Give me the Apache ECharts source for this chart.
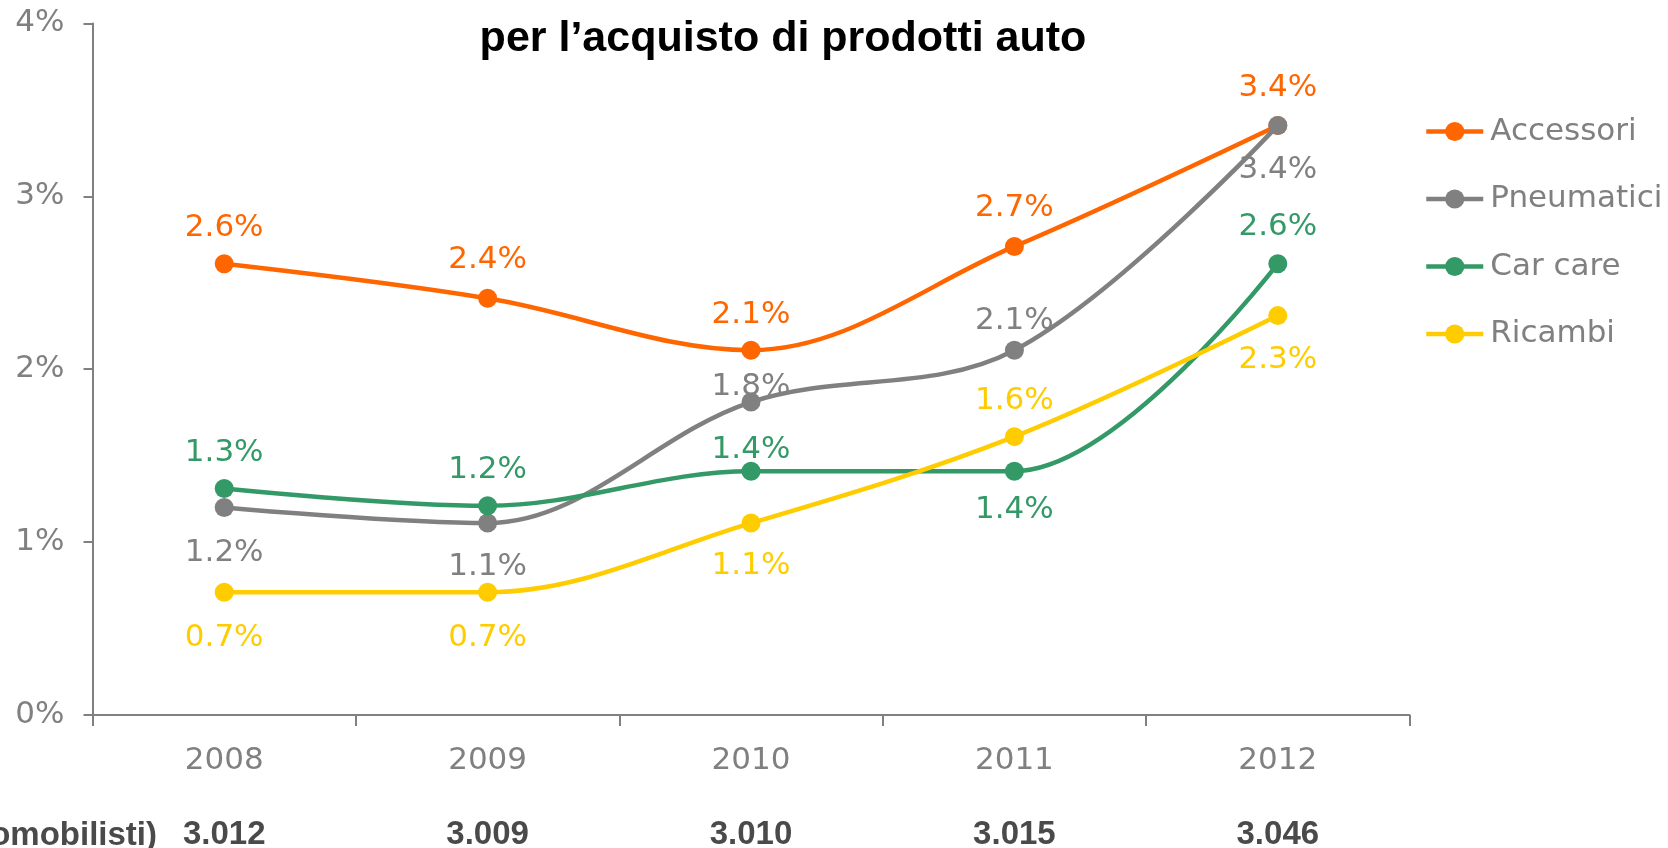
<!DOCTYPE html>
<html>
<head>
<meta charset="utf-8">
<script src="https://cdn.jsdelivr.net/npm/echarts@6/dist/echarts.min.js"></script>
<style>
html,body{margin:0;padding:0;background:#fff;}
#chart{width:1668px;height:848px;}
</style>
</head>
<body>
<div id="chart"></div>
<script>
// ---- data ----
var years = ['2008', '2009', '2010', '2011', '2012'];
var automobilisti = ['3.012', '3.009', '3.010', '3.015', '3.046'];
var accessori  = [2.61, 2.41, 2.11, 2.71, 3.41];
var pneumatici = [1.20, 1.11, 1.81, 2.11, 3.41];
var carCare    = [1.31, 1.21, 1.41, 1.41, 2.61];
var ricambi    = [0.71, 0.71, 1.11, 1.61, 2.31];
var yTickValues = [0, 1, 2, 3, 4];
var titleLines = ['Utilizzo del canale internet', 'per l\u2019acquisto di prodotti auto'];
var bottomRowLabel = '(Base: automobilisti)';

// ---- label layout (style only) ----
var accLabelPos  = [['top',11],['top',13],['top',10],['top',13],['top',12]];
var pneLabelPos  = [['bottom',20],['bottom',19],['top',-10],['top',4],['bottom',20]];
var carLabelPos  = [['top',11],['top',11],['top',-4],['bottom',14],['top',12]];
var ricLabelPos  = [['bottom',21],['bottom',21],['bottom',18],['top',11],['bottom',19]];

var GRAY = '#808080';
var FONT = '"DejaVu Sans", Verdana, sans-serif';

function buildData(values, layout) {
  return values.map(function (v, i) {
    return { value: v, label: { position: layout[i][0], distance: layout[i][1] } };
  });
}

function makeSeries(name, color, values, layout) {
  return {
    name: name,
    type: 'line',
    xAxisIndex: 0,
    smooth: 0.35,
    symbol: 'circle',
    symbolSize: 19,
    lineStyle: { color: color, width: 4.5 },
    itemStyle: { color: color },
    label: {
      show: true,
      color: color,
      fontFamily: FONT,
      fontSize: 31,
      lineHeight: 31,
      formatter: function (p) { return p.value.toFixed(1) + '%'; }
    },
    emphasis: { disabled: true },
    data: buildData(values, layout)
  };
}

var chart = echarts.init(document.getElementById('chart'), null, { renderer: 'canvas' });

var option = {
  animation: false,
  backgroundColor: '#ffffff',
  grid: { left: 92.5, right: 258.5, top: 23.4, bottom: 133, containLabel: false, outerBoundsMode: 'none' },
  legend: {
    orient: 'vertical',
    left: 1419,
    top: 111,
    itemWidth: 57,
    itemHeight: 24,
    itemGap: 36.5,
    lineStyle: { width: 4.5 },
    textStyle: { color: GRAY, fontFamily: FONT, fontSize: 31, lineHeight: 31, padding: [0,0,0,2] },
    data: ['Accessori', 'Pneumatici', 'Car care', 'Ricambi']
  },
  xAxis: [{
    type: 'category',
    data: years,
    boundaryGap: true,
    axisLine: { lineStyle: { color: GRAY, width: 2 } },
    axisTick: { show: true, length: 11, lineStyle: { color: GRAY, width: 2 } },
    axisLabel: { color: GRAY, fontFamily: FONT, fontSize: 31, margin: 30 },
    splitLine: { show: false }
  }, {
    type: 'category',
    data: automobilisti,
    position: 'bottom',
    offset: 75,
    boundaryGap: true,
    axisLine: { show: false },
    axisTick: { show: false },
    axisLabel: { color: '#4a4a4a', fontFamily: '"Liberation Sans", Arial, sans-serif', fontWeight: 'bold', fontSize: 33, margin: 28 },
    splitLine: { show: false }
  }],
  yAxis: {
    type: 'value',
    min: yTickValues[0],
    max: yTickValues[yTickValues.length - 1],
    interval: 1,
    axisLine: { show: true, lineStyle: { color: GRAY, width: 2 } },
    axisTick: { show: true, length: 9, lineStyle: { color: GRAY, width: 2 } },
    axisLabel: { color: GRAY, fontFamily: FONT, fontSize: 31, margin: 28, formatter: '{value}%' },
    splitLine: { show: false }
  },
  graphic: [
    { type: 'text', x: 783, y: 66, style: { text: titleLines.join('\n'), fill: '#000', font: 'bold 43px "Liberation Sans", Arial, sans-serif', lineHeight: 54, textAlign: 'center', textVerticalAlign: 'bottom' } },
    { type: 'text', x: 157, y: 836, style: { text: bottomRowLabel, fill: '#4a4a4a', font: 'bold 33px "Liberation Sans", Arial, sans-serif', textAlign: 'right', textVerticalAlign: 'middle' } }
  ],
  series: [
    makeSeries('Accessori', '#FF6600', accessori, accLabelPos),
    makeSeries('Pneumatici', '#808080', pneumatici, pneLabelPos),
    makeSeries('Car care', '#339966', carCare, carLabelPos),
    makeSeries('Ricambi', '#FFCC00', ricambi, ricLabelPos)
  ]
};
chart.setOption(option);
</script>
</body>
</html>
